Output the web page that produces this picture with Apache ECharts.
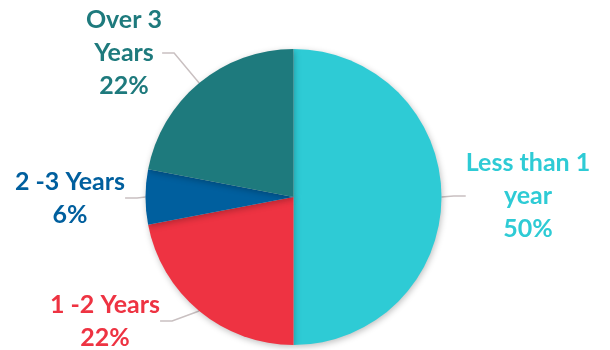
<!DOCTYPE html>
<html>
<head>
<meta charset="utf-8">
<script src="https://cdn.jsdelivr.net/npm/echarts@6/dist/echarts.min.js"></script>
<style>
  html, body { margin: 0; padding: 0; background: #fff; }
  #chart { width: 610px; height: 350px; }
</style>
</head>
<body>
<div id="chart"></div>
<script>
// Tenure groups, clockwise from 12 o'clock
const categories = ['Less than 1 year', '1 -2 Years', '2 -3 Years', 'Over 3 Years'];
const labelNames = ['Less than 1\nyear', '1 -2 Years', '2 -3 Years', 'Over 3\nYears'];
const shares = [50, 22, 6, 22];
const colors = ['#2ECBD5', '#EE3342', '#005F9E', '#1E7A7D'];

// label anchor points (centre of each text block)
const labelSpots = [[528, 196], [105, 321], [70, 198], [124, 53]];

const chart = echarts.init(document.getElementById('chart'), null, { renderer: 'canvas' });

chart.setOption({
  animation: false,
  series: [{
    type: 'pie',
    center: [293.5, 197],
    radius: 148,
    startAngle: 90,
    clockwise: true,
    data: categories.map((name, i) => ({
      name: name,
      value: shares[i],
      itemStyle: { color: colors[i] },
      label: { color: colors[i] }
    })),
    itemStyle: {
      shadowBlur: 6,
      shadowColor: 'rgba(0,0,0,0.25)',
      shadowOffsetX: 1,
      shadowOffsetY: 2
    },
    label: {
      show: true,
      position: 'outside',
      fontFamily: 'Lato',
      fontWeight: 'bold',
      fontSize: 25,
      lineHeight: 33,
      align: 'center',
      formatter: p => labelNames[p.dataIndex] + '\n' + p.value + '%'
    },
    labelLine: {
      show: true,
      length: 10,
      length2: 12,
      lineStyle: { color: '#C9C0C1', width: 1.5 }
    },
    labelLayout: p => ({
      x: labelSpots[p.dataIndex][0],
      y: labelSpots[p.dataIndex][1],
      align: 'center',
      verticalAlign: 'middle'
    }),
    emphasis: { disabled: true }
  }]
});
</script>
</body>
</html>
